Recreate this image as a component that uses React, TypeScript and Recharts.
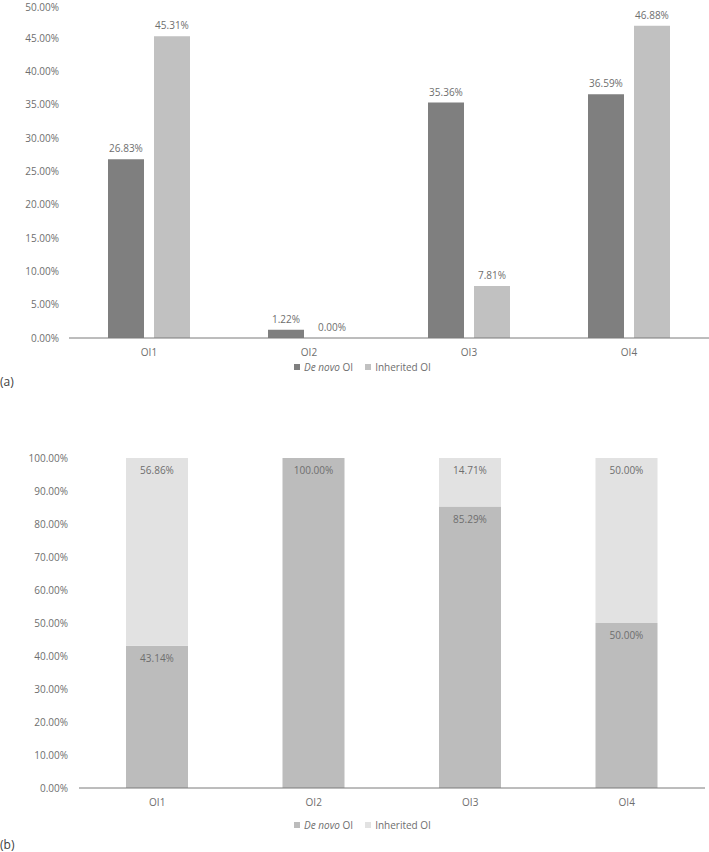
import React from "react";
import { BarChart, Bar, XAxis, YAxis, Legend, LabelList } from "recharts";

const categories = ["OI1", "OI2", "OI3", "OI4"];

// panel (a): share of each group, %
const deNovoShare = [26.83, 1.22, 35.36, 36.59];
const inheritedShare = [45.31, 0.0, 7.81, 46.88];
const ticksA = [0, 5, 10, 15, 20, 25, 30, 35, 40, 45, 50];

// panel (b): split within each type, %
const deNovoSplit = [43.14, 100.0, 85.29, 50.0];
const inheritedSplit = [56.86, 0.0, 14.71, 50.0];
const ticksB = [0, 10, 20, 30, 40, 50, 60, 70, 80, 90, 100];

const dataA = categories.map((name, i) => ({
  name,
  deNovo: deNovoShare[i],
  inherited: inheritedShare[i],
}));

const dataB = categories.map((name, i) => ({
  name,
  deNovo: deNovoSplit[i],
  inherited: inheritedSplit[i],
}));

const FONT = "'Open Sans', sans-serif";
const TEXT = "#6e6e6e";
const pct = (v: number) => `${Number(v).toFixed(2)}%`;

function LegendBox({ dark, light }: { dark: string; light: string }) {
  const item = { display: "flex", alignItems: "center", gap: 4 } as const;
  const sq = (c: string) => (
    <span style={{ display: "inline-block", width: 6, height: 6, background: c }} />
  );
  return (
    <div
      style={{
        height: 20,
        display: "flex",
        justifyContent: "center",
        alignItems: "center",
        gap: 12,
        paddingLeft: 16,
        fontFamily: FONT,
        fontSize: 10,
        color: TEXT,
      }}
    >
      <span style={item}>
        {sq(dark)}
        <span>
          <i>De novo</i> OI
        </span>
      </span>
      <span style={item}>
        {sq(light)}
        <span>Inherited OI</span>
      </span>
    </div>
  );
}

const tickStyle = { fill: TEXT, fontSize: 10, fontFamily: FONT };

// label above a bar, drawn even when the bar has zero height
const TopLabel = (p: any) => {
  const { x, y, width, height, value } = p;
  const top = Math.min(Number(y), Number(y) + Number(height || 0));
  return (
    <text x={Number(x) + Number(width) / 2} y={top - 7} textAnchor="middle" style={tickStyle}>
      {pct(value)}
    </text>
  );
};

export default function App() {
  return (
    <div style={{ position: "absolute", left: 0, top: 0, width: 709, height: 852, background: "#fff" }}>
      {/* (a) grouped bars */}
      <div style={{ position: "absolute", left: 0, top: 0 }}>
        <BarChart
          width={709}
          height={400}
          data={dataA}
          margin={{ top: 5, right: 0, left: 0, bottom: 23 }}
          barGap={10}
        >
          <XAxis
            dataKey="name"
            height={19}
            tickLine={false}
            tickSize={0}
            tickMargin={11}
            axisLine={{ stroke: "#7a7a7a" }}
            tick={tickStyle}
          />
          <YAxis
            width={69}
            domain={[0, 50]}
            ticks={ticksA}
            axisLine={false}
            tickLine={false}
            tickSize={0}
            tickMargin={10}
            tickFormatter={pct}
            tick={tickStyle}
          />
          <Legend
            verticalAlign="bottom"
            wrapperStyle={{ left: 0, width: 709 }}
            content={() => <LegendBox dark="#7f7f7f" light="#c1c1c1" />}
          />
          <Bar dataKey="deNovo" fill="#7f7f7f" barSize={36} isAnimationActive={false}>
            <LabelList dataKey="deNovo" content={TopLabel} />
          </Bar>
          <Bar
            dataKey="inherited"
            fill="#c1c1c1"
            barSize={36}
            minPointSize={(v: number) => (v === 0 ? 0.01 : 0)}
            isAnimationActive={false}
          >
            <LabelList dataKey="inherited" content={TopLabel} />
          </Bar>
        </BarChart>
      </div>
      <div style={{ position: "absolute", left: 0, top: 373, fontFamily: FONT, fontSize: 12, color: "#404040" }}>
        (a)
      </div>

      {/* (b) stacked bars */}
      <div style={{ position: "absolute", left: 0, top: 410 }}>
        <BarChart
          width={709}
          height={442}
          data={dataB}
          margin={{ top: 48, right: 4, left: 0, bottom: 17 }}
        >
          <XAxis
            dataKey="name"
            height={27}
            tickLine={false}
            tickSize={0}
            tickMargin={11}
            axisLine={{ stroke: "#7a7a7a" }}
            tick={tickStyle}
          />
          <YAxis
            width={79}
            domain={[0, 100]}
            ticks={ticksB}
            axisLine={false}
            tickLine={false}
            tickSize={0}
            tickMargin={11}
            tickFormatter={pct}
            tick={tickStyle}
          />
          <Legend
            verticalAlign="bottom"
            wrapperStyle={{ left: 0, width: 709 }}
            content={() => <LegendBox dark="#bcbcbc" light="#e2e2e2" />}
          />
          <Bar dataKey="deNovo" stackId="s" fill="#bcbcbc" barSize={62} isAnimationActive={false}>
            <LabelList
              dataKey="deNovo"
              position="insideTop"
              offset={9}
              formatter={(v: number) => (v > 0 ? pct(v) : "")}
              style={tickStyle}
            />
          </Bar>
          <Bar dataKey="inherited" stackId="s" fill="#e2e2e2" barSize={62} isAnimationActive={false}>
            <LabelList
              dataKey="inherited"
              position="insideTop"
              offset={9}
              formatter={(v: number) => (v > 0 ? pct(v) : "")}
              style={tickStyle}
            />
          </Bar>
        </BarChart>
      </div>
      <div style={{ position: "absolute", left: 0, top: 836, fontFamily: FONT, fontSize: 12, color: "#404040" }}>
        (b)
      </div>
    </div>
  );
}
